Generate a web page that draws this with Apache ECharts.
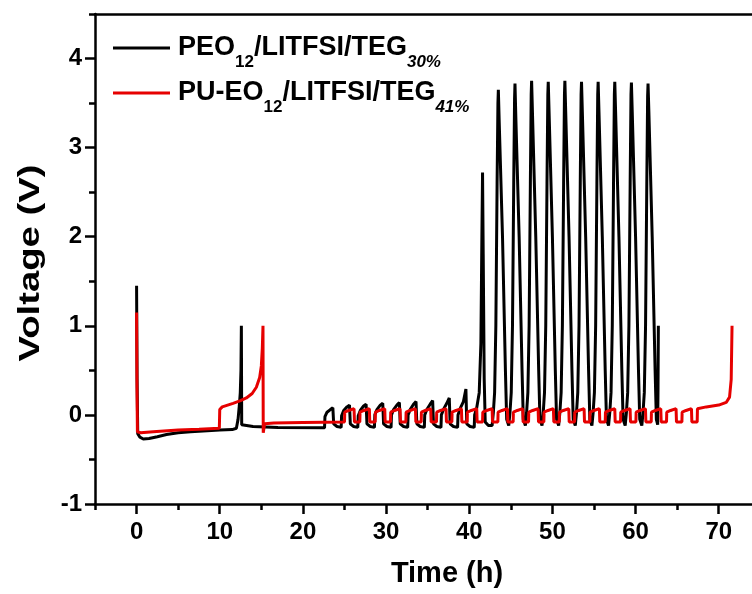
<!DOCTYPE html>
<html><head><meta charset="utf-8">
<script src="https://cdn.jsdelivr.net/npm/echarts@6/dist/echarts.min.js"></script>
<style>html,body{margin:0;padding:0;background:#fff}#c{width:752px;height:594px}</style>
</head><body><div id="c"></div>
<script>
const xMajorTicks = [0,10,20,30,40,50,60,70];
const xMinorTicks = [-5,5,15,25,35,45,55,65];
const yMajorTicks = [-1,0,1,2,3,4];
const yMinorTicks = [-0.5,0.5,1.5,2.5,3.5,4.5];

// PEO12/LITFSI/TEG30% : [time (h), voltage (V)]
const peoData = [
[0,1.45],[0.06,0.4],[0.14,-0.21],[0.4,-0.25],[0.8,-0.27],[1.5,-0.265],[2.5,-0.245],[3.6,-0.22],[5,-0.2],[6.5,-0.19],[8,-0.18],[10,-0.17],[11.5,-0.165],[12.0,-0.15],[12.2,-0.05],[12.35,0.1],[12.47,0.25],[12.55,0.5],[12.6,1.0],[12.64,-0.11],[14,-0.13],[17,-0.14],[22.6,-0.145],
[22.65,-0.02],[22.9,0.03],[23.3,0.06],[23.6,0.08],[23.7,-0.1],[24.1,-0.13],
[24.6,-0.14],[24.65,-0.01],[24.9,0.05],[25.3,0.09],[25.6,0.11],[25.7,-0.1],[26.1,-0.13],
[26.6,-0.14],[26.65,-0.01],[26.9,0.05],[27.3,0.1],[27.6,0.12],[27.7,-0.1],[28.1,-0.13],
[28.6,-0.14],[28.65,0],[28.9,0.06],[29.3,0.11],[29.6,0.13],[29.7,-0.1],[30.1,-0.13],
[30.6,-0.14],[30.65,0],[30.9,0.06],[31.3,0.11],[31.6,0.14],[31.7,-0.1],[32.1,-0.13],
[32.6,-0.14],[32.65,0],[32.9,0.06],[33.3,0.12],[33.6,0.15],[33.7,-0.1],[34.1,-0.13],
[34.6,-0.14],[34.65,0],[34.9,0.06],[35.3,0.12],[35.6,0.16],[35.7,-0.1],[36.1,-0.13],
[36.6,-0.14],[36.65,0],[36.9,0.06],[37.3,0.13],[37.6,0.19],[37.7,-0.1],[38.1,-0.13],
[38.6,-0.14],[38.65,0],[38.9,0.07],[39.3,0.15],[39.6,0.29],[39.7,-0.1],[40.1,-0.13],
[40.6,-0.14],[40.65,0],[40.9,0.08],[41.2,0.25],[41.4,0.8],[41.52,2.0],[41.6,2.72],[41.68,1.8],[41.8,0.4],[41.92,-0.08],[42.3,-0.12],
[42.75,-0.12],[42.9,0.03],[43.05,0.25],[43.2,1.0],[43.35,2.6],[43.45,3.5],[43.5,3.65],[43.6,3.3],[44.0,2.0],[44.35,0.5],[44.5,-0.05],[44.75,-0.12],
[44.9,0.03],[45.05,0.25],[45.2,1.0],[45.35,2.6],[45.45,3.55],[45.5,3.72],[45.6,3.35],[46.0,2.0],[46.35,0.5],[46.5,-0.05],[46.75,-0.12],
[46.9,0.03],[47.05,0.25],[47.2,1.0],[47.35,2.6],[47.45,3.6],[47.5,3.75],[47.6,3.4],[48.0,2.0],[48.35,0.5],[48.5,-0.05],[48.75,-0.12],
[48.9,0.03],[49.05,0.25],[49.2,1.0],[49.35,2.6],[49.45,3.6],[49.5,3.74],[49.6,3.4],[50.0,2.0],[50.35,0.5],[50.5,-0.05],[50.75,-0.12],
[50.9,0.03],[51.05,0.25],[51.2,1.0],[51.35,2.6],[51.45,3.6],[51.5,3.75],[51.6,3.4],[52.0,2.0],[52.35,0.5],[52.5,-0.05],[52.75,-0.12],
[52.9,0.03],[53.05,0.25],[53.2,1.0],[53.35,2.6],[53.45,3.6],[53.5,3.74],[53.6,3.4],[54.0,2.0],[54.35,0.5],[54.5,-0.05],[54.75,-0.12],
[54.9,0.03],[55.05,0.25],[55.2,1.0],[55.35,2.6],[55.45,3.6],[55.5,3.74],[55.6,3.4],[56.0,2.0],[56.35,0.5],[56.5,-0.05],[56.75,-0.12],
[56.9,0.03],[57.05,0.25],[57.2,1.0],[57.35,2.6],[57.45,3.6],[57.5,3.74],[57.6,3.4],[58.0,2.0],[58.35,0.5],[58.5,-0.05],[58.75,-0.12],
[58.9,0.03],[59.05,0.25],[59.2,1.0],[59.35,2.6],[59.45,3.6],[59.5,3.73],[59.6,3.4],[60.0,2.0],[60.35,0.5],[60.5,-0.05],[60.75,-0.12],
[60.9,0.03],[61.05,0.25],[61.2,1.0],[61.35,2.6],[61.45,3.58],[61.5,3.72],[61.6,3.4],[62.0,2.0],[62.35,0.5],[62.5,-0.05],[62.66,-0.11],
[62.7,0.3],[62.74,1.0]
];

// PU-EO12/LITFSI/TEG41% : [time (h), voltage (V)]
const puData = [
[0,1.15],[0.05,0.3],[0.1,-0.19],[0.5,-0.2],[2,-0.19],[5,-0.17],[7.5,-0.16],[9.95,-0.15],[10.0,0.06],[10.3,0.09],[11.6,0.13],[12.5,0.16],[13.2,0.19],[13.9,0.24],[14.4,0.31],[14.8,0.42],[15.0,0.55],[15.12,0.75],[15.2,1.0],[15.23,-0.2],[15.4,-0.1],[16.5,-0.09],[20,-0.085],
[25.00,-0.08],[25.03,0.03],[25.50,0.05],[26.15,0.07],[26.20,-0.08],
[26.84,-0.08],[26.87,0.03],[27.34,0.05],[27.99,0.07],[28.04,-0.08],
[28.69,-0.08],[28.72,0.03],[29.19,0.05],[29.84,0.07],[29.89,-0.08],
[30.53,-0.08],[30.56,0.03],[31.03,0.05],[31.68,0.07],[31.73,-0.08],
[32.38,-0.08],[32.41,0.03],[32.88,0.05],[33.53,0.07],[33.58,-0.08],
[34.22,-0.08],[34.25,0.03],[34.72,0.05],[35.37,0.07],[35.42,-0.08],
[36.06,-0.08],[36.09,0.03],[36.56,0.05],[37.21,0.07],[37.26,-0.08],
[37.91,-0.08],[37.94,0.03],[38.41,0.05],[39.06,0.07],[39.11,-0.08],
[39.75,-0.08],[39.78,0.03],[40.25,0.05],[40.90,0.07],[40.95,-0.08],
[41.60,-0.08],[41.63,0.03],[42.10,0.05],[42.75,0.07],[42.80,-0.08],
[43.44,-0.08],[43.47,0.03],[43.94,0.05],[44.59,0.07],[44.64,-0.08],
[45.28,-0.08],[45.31,0.03],[45.78,0.05],[46.43,0.07],[46.48,-0.08],
[47.13,-0.08],[47.16,0.03],[47.63,0.05],[48.28,0.07],[48.33,-0.08],
[48.97,-0.08],[49.00,0.03],[49.47,0.05],[50.12,0.07],[50.17,-0.08],
[50.82,-0.08],[50.85,0.03],[51.32,0.05],[51.97,0.07],[52.02,-0.08],
[52.66,-0.08],[52.69,0.03],[53.16,0.05],[53.81,0.07],[53.86,-0.08],
[54.50,-0.08],[54.53,0.03],[55.00,0.05],[55.65,0.07],[55.70,-0.08],
[56.35,-0.08],[56.38,0.03],[56.85,0.05],[57.50,0.07],[57.55,-0.08],
[58.19,-0.08],[58.22,0.03],[58.69,0.05],[59.34,0.07],[59.39,-0.08],
[60.04,-0.08],[60.07,0.03],[60.54,0.05],[61.19,0.07],[61.24,-0.08],
[61.88,-0.08],[61.91,0.03],[62.38,0.05],[63.03,0.07],[63.08,-0.08],
[63.72,-0.08],[63.75,0.03],[64.22,0.05],[64.87,0.07],[64.92,-0.08],
[65.57,-0.08],[65.60,0.03],[66.07,0.05],[66.72,0.07],[66.77,-0.08],
[67.41,-0.08],[67.44,0.07],[68.5,0.09],[70,0.11],[70.9,0.14],[71.3,0.2],[71.5,0.4],[71.6,1.0]
];

const FONT = 'Liberation Sans, Arial, sans-serif';
const AX = 2.5;
const chart = echarts.init(document.getElementById('c'), null, {renderer: 'canvas'});

const richLegend = {
  m: {fontSize: 27, fontWeight: 'bold', fontFamily: FONT, color: '#000', lineHeight: 30, verticalAlign: 'top'},
  s: {fontSize: 17, fontWeight: 'bold', fontFamily: FONT, color: '#000', lineHeight: 18, padding: [20,0,0,0], verticalAlign: 'top'},
  i: {fontSize: 17, fontWeight: 'bold', fontStyle: 'italic', fontFamily: FONT, color: '#000', lineHeight: 18, padding: [20,0,0,0], verticalAlign: 'top'}
};

const baseX = {type: 'value', min: -5, max: 74, gridIndex: 0, splitLine: {show: false}, nameMoveOverlap: false};
const baseY = {type: 'value', min: -1, max: 4.5, gridIndex: 0, splitLine: {show: false}, nameMoveOverlap: false};

chart.setOption({
  animation: false,
  backgroundColor: '#fff',
  grid: {left: 95, right: 0, top: 14, bottom: 90, containLabel: false, outerBoundsMode: 'none'},
  xAxis: [
    Object.assign({}, baseX, {
      position: 'bottom',
      axisLine: {show: true, onZero: false, lineStyle: {color: '#000', width: AX}},
      axisTick: {show: true, inside: false, length: 10, customValues: xMajorTicks, lineStyle: {color: '#000', width: AX}},
      axisLabel: {show: true, customValues: xMajorTicks, margin: 16, color: '#000', fontSize: 24, fontWeight: 'bold', fontFamily: FONT},
      name: 'Time (h)', nameLocation: 'middle', nameGap: 55,
      nameTextStyle: {fontSize: 29, fontWeight: 'bold', fontFamily: FONT, color: '#000', padding: [0,0,0,47]}
    }),
    Object.assign({}, baseX, {
      position: 'bottom',
      axisLine: {show: false, onZero: false},
      axisTick: {show: true, inside: false, length: 6, customValues: xMinorTicks, lineStyle: {color: '#000', width: AX}},
      axisLabel: {show: false}
    }),
    Object.assign({}, baseX, {
      position: 'top',
      axisLine: {show: true, onZero: false, lineStyle: {color: '#000', width: AX}},
      axisTick: {show: false},
      axisLabel: {show: false}
    })
  ],
  yAxis: [
    Object.assign({}, baseY, {
      position: 'left',
      axisLine: {show: true, onZero: false, lineStyle: {color: '#000', width: AX}},
      axisTick: {show: true, inside: false, length: 10, customValues: yMajorTicks, lineStyle: {color: '#000', width: AX}},
      axisLabel: {show: true, customValues: yMajorTicks, margin: 13, color: '#000', fontSize: 24, fontWeight: 'bold', fontFamily: FONT}
    }),
    Object.assign({}, baseY, {
      position: 'left',
      axisLine: {show: false, onZero: false},
      axisTick: {show: true, inside: false, length: 6, customValues: yMinorTicks, lineStyle: {color: '#000', width: AX}},
      axisLabel: {show: false}
    })
  ],
  graphic: [
    {type: 'text', x: 31, y: 263, rotation: Math.PI / 2, scaleX: 1.32,
     style: {text: 'Voltage (V)', fontSize: 29, fontWeight: 'bold', fontFamily: FONT, fill: '#000', align: 'center', verticalAlign: 'middle'}},
    {type: 'line', shape: {x1: 113, y1: 48, x2: 170, y2: 48}, style: {stroke: '#000', lineWidth: 3}},
    {type: 'text', x: 178, y: 34, style: {text: '{m|PEO}{s|12}{m|/LITFSI/TEG}{i|30%}', rich: richLegend, verticalAlign: 'top'}},
    {type: 'line', shape: {x1: 113, y1: 93, x2: 170, y2: 93}, style: {stroke: '#e60000', lineWidth: 3}},
    {type: 'text', x: 178, y: 79, style: {text: '{m|PU-EO}{s|12}{m|/LITFSI/TEG}{i|41%}', rich: richLegend, verticalAlign: 'top'}}
  ],
  series: [
    {name: 'PEO12/LITFSI/TEG30%', type: 'line', xAxisIndex: 0, yAxisIndex: 0, data: peoData, showSymbol: false, symbol: 'none',
     lineStyle: {color: '#000', width: 3}, itemStyle: {color: '#000'}, z: 2},
    {name: 'PU-EO12/LITFSI/TEG41%', type: 'line', xAxisIndex: 0, yAxisIndex: 0, data: puData, showSymbol: false, symbol: 'none',
     lineStyle: {color: '#e60000', width: 3}, itemStyle: {color: '#e60000'}, z: 3}
  ]
});
</script></body></html>
